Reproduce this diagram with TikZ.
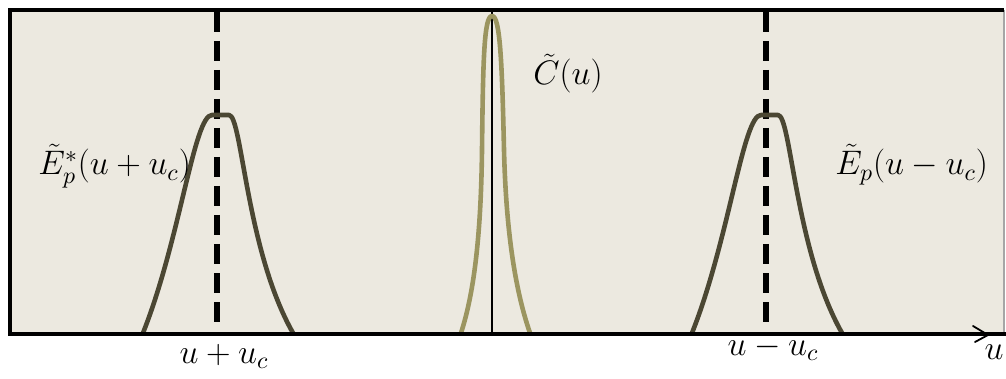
\documentclass[tikz,border=0pt]{standalone}
\usepackage{fix-cm}
\definecolor{bgc}{HTML}{ECE9E0}
\definecolor{ecol}{HTML}{4B4733}
\definecolor{ccol}{HTML}{9B9560}
\tikzset{
  border/.style={line width=2pt, black},
  ecurve/.style={line width=2.3pt, ecol, line cap=round, line join=round},
  ccurve/.style={line width=2.3pt, ccol, line cap=round, line join=round},
  dashline/.style={line width=2.6pt, black, dash pattern=on 10pt off 4.5pt},
  lbl/.style={font=\fontsize{17}{20}\selectfont, inner sep=0pt},
}
\newcommand{\ebell}{%
 (143,333) .. controls (180,240) and (194,115) .. (212,115)
 -- (229,115)
 .. controls (242,115) and (246,250) .. (293,333)}
\begin{document}
\begin{tikzpicture}[x=0.5pt, y=-0.5pt]
\useasboundingbox (0,0) rectangle (1006,379);
% background panel
\fill[bgc] (10,10) rectangle (1004,334);
\draw[gray!70, line width=0.6pt] (1004,10) -- (1004,334);
% dashed marker lines
\coordinate (d1t) at (217,12);
\coordinate (d1b) at (217,330);
\coordinate (d2t) at (766,12);
\coordinate (d2b) at (766,330);
\draw[dashline] (d1t) -- (d1b);
\draw[dashline] (d2t) -- (d2b);
% centre line
\coordinate (ct) at (492,10);
\coordinate (cb) at (492,334);
\draw[line width=0.8pt] (ct) -- (cb);
% E* curve (left)
\draw[ecurve] \ebell;
% E curve (right)
\begin{scope}[shift={(549,0)}]
\draw[ecurve] \ebell;
\end{scope}
% C curve (centre)
\draw[ccurve] (461,333) .. controls (475,290) and (481,230) .. (482,150)
 .. controls (483,60) and (484,16) .. (492,16)
 .. controls (500,16) and (502,60) .. (504,150)
 .. controls (506,230) and (515,290) .. (530,333);
% frame
\draw[border] (8,10) -- (1004,10);
\draw[border] (10,10) -- (10,334);
\coordinate (ax0) at (8,334);
\coordinate (ax1) at (1006,334);
\draw[border] (ax0) -- (ax1);
% arrow head on axis
\coordinate (tip) at (988,335);
\draw[line width=0.9pt, line cap=round, line join=round] (973,326) -- (tip) -- (975,342);
% labels
\node[lbl, anchor=base west] (lEs) at (38,175) {$\tilde{E}_p^{*}(u+u_c)$};
\node[lbl, anchor=base west] (lC) at (533,85) {$\tilde{C}(u)$};
\node[lbl, anchor=base west] (lE) at (835,175) {$\tilde{E}_p(u-u_c)$};
\node[lbl, anchor=base] (lp) at (224,363) {$u+u_c$};
\node[lbl, anchor=base] (lm) at (773,355) {$u-u_c$};
\node[lbl, anchor=base] (lu) at (994,359) {$u$};
\end{tikzpicture}
\end{document}
